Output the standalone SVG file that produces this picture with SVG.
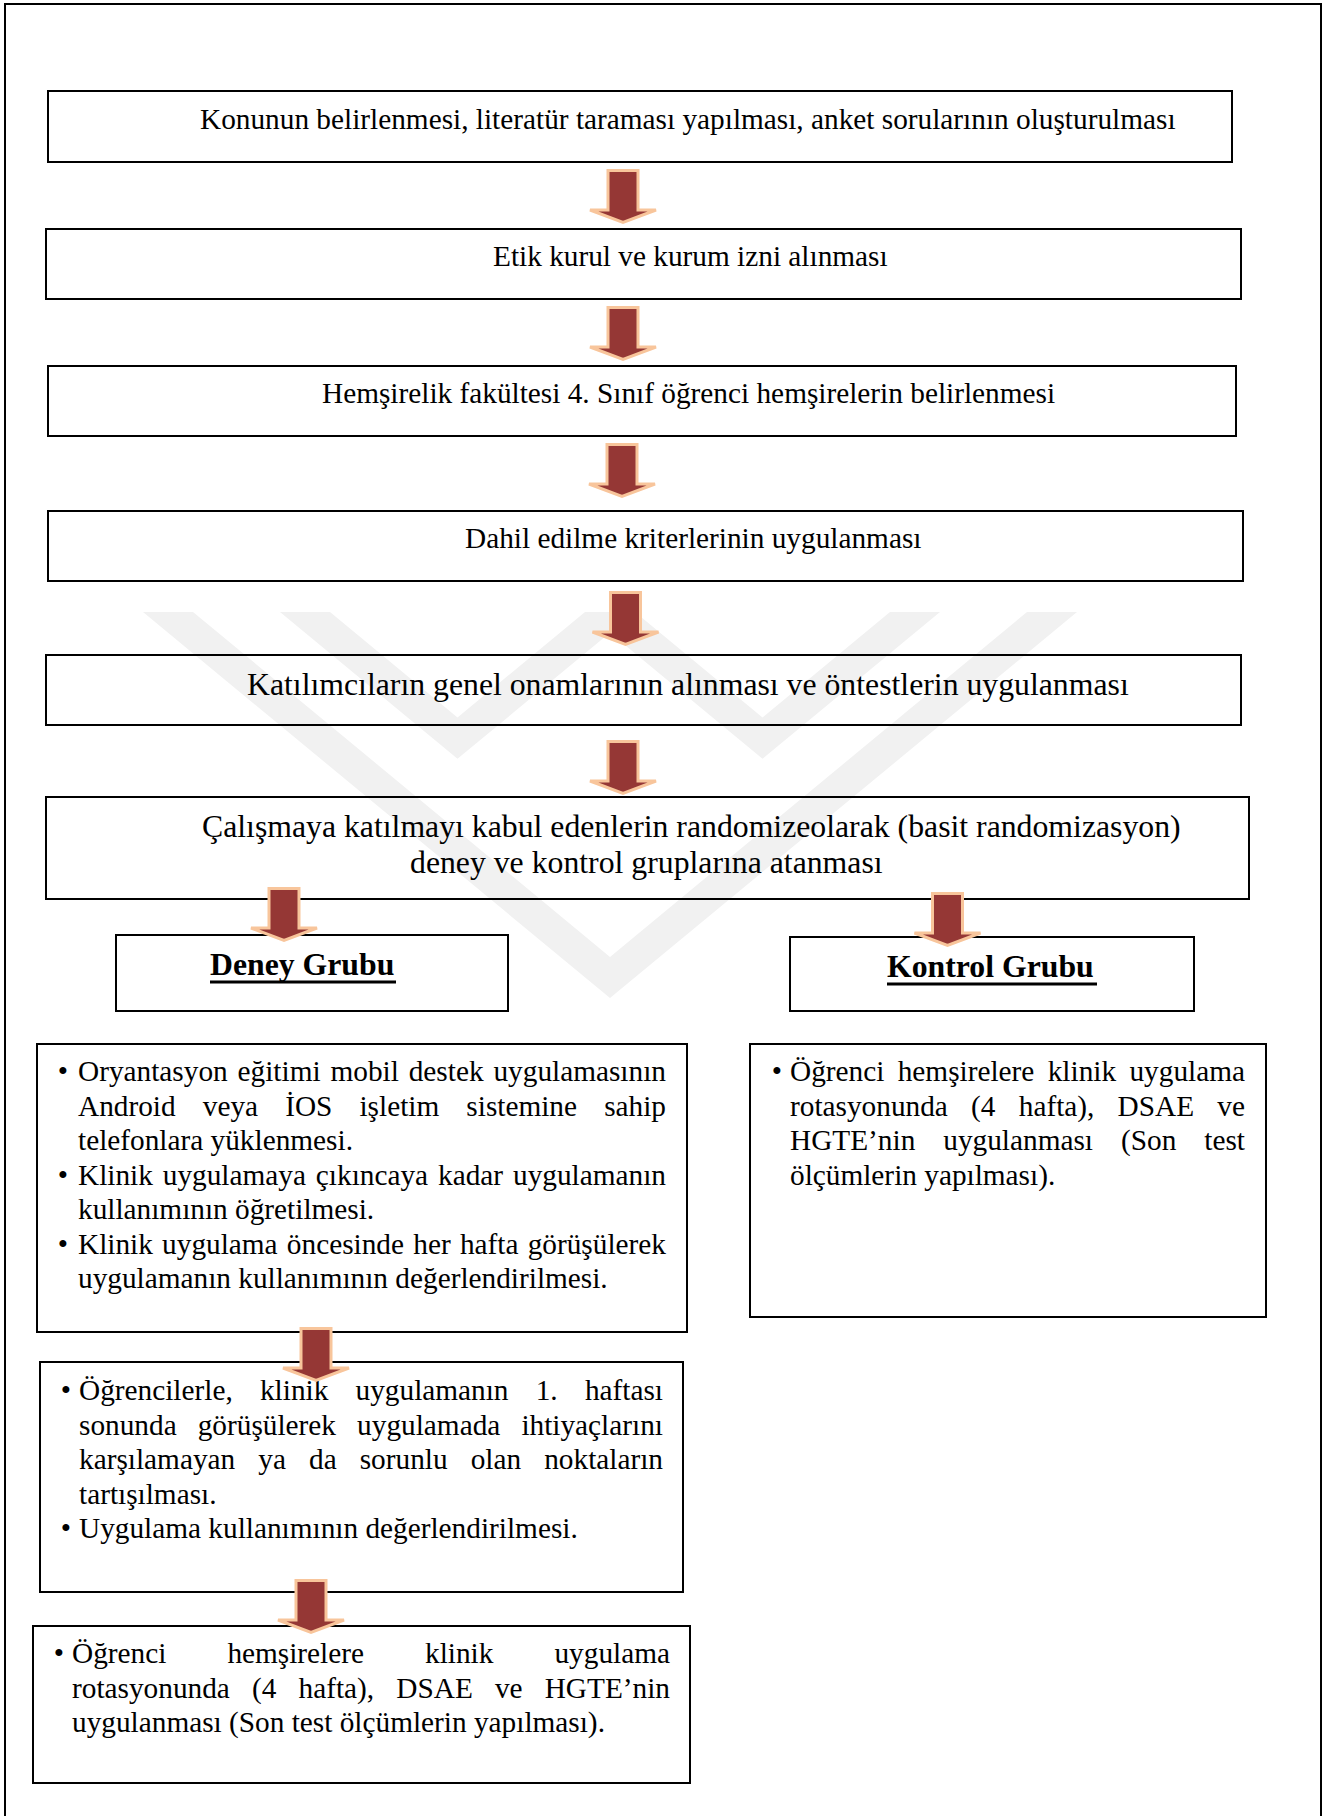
<svg xmlns="http://www.w3.org/2000/svg" width="1324" height="1816" viewBox="0 0 1324 1816">
<defs>
<style>
.box{fill:none;stroke:#000;stroke-width:2}
.t{font-family:"Liberation Serif","Times New Roman",serif;font-size:29.3px;fill:#000}
.t13{font-size:31.75px}
.h{font-family:"Liberation Serif","Times New Roman",serif;font-size:31.75px;font-weight:bold;fill:#000}
.ul{stroke:#000;stroke-width:3}
.arr{fill:#953735;stroke:#f8c59b;stroke-width:3;stroke-linejoin:miter}
.wm{fill:#f1f1f1}
</style>
<path id="arrow" d="M-15,1.5 H15 V41 H33 L0,53.5 L-33,41 H-15 Z"/>
</defs>
<rect width="1324" height="1816" fill="#fff"/>
<g id="watermark">
<polygon class="wm" points="143,612 193,612 610,957 1027,612 1077,612 610,998"/>
<polygon class="wm" points="280,612 330,612 457.5,717.5 585,612 635,612 457.5,758.8"/>
<polygon class="wm" points="585,612 635,612 762.5,717.5 890,612 940,612 762.5,758.8"/>
</g>
<path id="frame" d="M5,1816 V4 H1321 V1816" fill="none" stroke="#000" stroke-width="2"/>

<g id="n1">
<rect class="box" x="48" y="91" width="1184" height="71"/>
<text class="t" x="200" y="129">Konunun belirlenmesi, literatür taraması yapılması, anket sorularının oluşturulması</text>
</g>
<g id="n2">
<rect class="box" x="46" y="229" width="1195" height="70"/>
<text class="t" x="493" y="266">Etik kurul ve kurum izni alınması</text>
</g>
<g id="n3">
<rect class="box" x="48" y="366" width="1188" height="70"/>
<text class="t" x="322" y="403">Hemşirelik fakültesi 4. Sınıf öğrenci hemşirelerin belirlenmesi</text>
</g>
<g id="n4">
<rect class="box" x="48" y="511" width="1195" height="70"/>
<text class="t" x="465" y="548">Dahil edilme kriterlerinin uygulanması</text>
</g>
<g id="n5">
<rect class="box" x="46" y="655" width="1195" height="70"/>
<text class="t t13" x="247" y="695">Katılımcıların genel onamlarının alınması ve öntestlerin uygulanması</text>
</g>
<g id="n6">
<rect class="box" x="46" y="797" width="1203" height="102"/>
<text class="t t13" x="202" y="837">Çalışmaya katılmayı kabul edenlerin randomizeolarak (basit randomizasyon)</text>
<text class="t t13" x="410" y="873">deney ve kontrol gruplarına atanması</text>
</g>
<g id="deney">
<rect class="box" x="116" y="935" width="392" height="76"/>
<text class="h" x="210" y="975">Deney Grubu</text>
<line class="ul" x1="210" y1="982" x2="396" y2="982"/>
</g>
<g id="kontrol">
<rect class="box" x="790" y="937" width="404" height="74"/>
<text class="h" x="887" y="977">Kontrol Grubu</text>
<line class="ul" x1="887" y1="984" x2="1097" y2="984"/>
</g>
<g id="deney-steps">
<rect class="box" x="37" y="1044" width="650" height="288"/>
<text class="t" x="63" y="1081" text-anchor="middle">•</text>
<text class="t" y="1081"><tspan x="78">Oryantasyon</tspan><tspan x="237.58">eğitimi</tspan><tspan x="330.48">mobil</tspan><tspan x="408.73">destek</tspan><tspan x="493.45">uygulamasının</tspan></text>
<text class="t" y="1115.5"><tspan x="78">Android</tspan><tspan x="202.76">veya</tspan><tspan x="285.18">İOS</tspan><tspan x="359.48">işletim</tspan><tspan x="466.36">sistemine</tspan><tspan x="604.16">sahip</tspan></text>
<text class="t" x="78" y="1150">telefonlara yüklenmesi.</text>
<text class="t" x="63" y="1184.5" text-anchor="middle">•</text>
<text class="t" y="1184.5"><tspan x="78">Klinik</tspan><tspan x="162.77">uygulamaya</tspan><tspan x="315.87">çıkıncaya</tspan><tspan x="438.03">kadar</tspan><tspan x="512.99">uygulamanın</tspan></text>
<text class="t" x="78" y="1219">kullanımının öğretilmesi.</text>
<text class="t" x="63" y="1253.5" text-anchor="middle">•</text>
<text class="t" y="1253.5"><tspan x="78">Klinik</tspan><tspan x="162.10">uygulama</tspan><tspan x="286.87">öncesinde</tspan><tspan x="413.25">her</tspan><tspan x="459.88">hafta</tspan><tspan x="527.66">görüşülerek</tspan></text>
<text class="t" x="78" y="1288">uygulamanın kullanımının değerlendirilmesi.</text>
</g>
<g id="kontrol-steps">
<rect class="box" x="750" y="1044" width="516" height="273"/>
<text class="t" x="777" y="1081" text-anchor="middle">•</text>
<text class="t" y="1081"><tspan x="790">Öğrenci</tspan><tspan x="897.71">hemşirelere</tspan><tspan x="1047.72">klinik</tspan><tspan x="1129.44">uygulama</tspan></text>
<text class="t" y="1115.5"><tspan x="790">rotasyonunda</tspan><tspan x="971.10">(4</tspan><tspan x="1018.74">hafta),</tspan><tspan x="1117.62">DSAE</tspan><tspan x="1217.35">ve</tspan></text>
<text class="t" y="1150"><tspan x="790">HGTE’nin</tspan><tspan x="943.28">uygulanması</tspan><tspan x="1120.99">(Son</tspan><tspan x="1204.30">test</tspan></text>
<text class="t" x="790" y="1184.5">ölçümlerin yapılması).</text>
</g>
<g id="deney-week1">
<rect class="box" x="40" y="1362" width="643" height="230"/>
<text class="t" x="66" y="1400" text-anchor="middle">•</text>
<text class="t" y="1400"><tspan x="79">Öğrencilerle,</tspan><tspan x="259.96">klinik</tspan><tspan x="355.54">uygulamanın</tspan><tspan x="535.73">1.</tspan><tspan x="584.90">haftası</tspan></text>
<text class="t" y="1434.5"><tspan x="79">sonunda</tspan><tspan x="197.72">görüşülerek</tspan><tspan x="357.11">uygulamada</tspan><tspan x="521.39">ihtiyaçlarını</tspan></text>
<text class="t" y="1469"><tspan x="79">karşılamayan</tspan><tspan x="258.29">ya</tspan><tspan x="309.01">da</tspan><tspan x="359.73">sorunlu</tspan><tspan x="470.69">olan</tspan><tspan x="544.20">noktaların</tspan></text>
<text class="t" x="79" y="1503.5">tartışılması.</text>
<text class="t" x="66" y="1538" text-anchor="middle">•</text>
<text class="t" x="79" y="1538">Uygulama kullanımının değerlendirilmesi.</text>
</g>
<g id="deney-posttest">
<rect class="box" x="33" y="1626" width="657" height="157"/>
<text class="t" x="59" y="1663" text-anchor="middle">•</text>
<text class="t" y="1663"><tspan x="72">Öğrenci</tspan><tspan x="227.38">hemşirelere</tspan><tspan x="425.06">klinik</tspan><tspan x="554.45">uygulama</tspan></text>
<text class="t" y="1697.5"><tspan x="72">rotasyonunda</tspan><tspan x="251.99">(4</tspan><tspan x="298.52">hafta),</tspan><tspan x="396.29">DSAE</tspan><tspan x="494.91">ve</tspan><tspan x="544.69">HGTE’nin</tspan></text>
<text class="t" x="72" y="1732">uygulanması (Son test ölçümlerin yapılması).</text>
</g>

<g id="connectors">
<use href="#arrow" class="arr" transform="translate(623,169)"/>
<use href="#arrow" class="arr" transform="translate(623,306)"/>
<use href="#arrow" class="arr" transform="translate(622,443)"/>
<use href="#arrow" class="arr" transform="translate(625.5,591)"/>
<use href="#arrow" class="arr" transform="translate(623,740)"/>
<use href="#arrow" class="arr" transform="translate(284,887)"/>
<use href="#arrow" class="arr" transform="translate(947.5,892)"/>
<use href="#arrow" class="arr" transform="translate(316,1327)"/>
<use href="#arrow" class="arr" transform="translate(311,1579)"/>
</g>
</svg>
